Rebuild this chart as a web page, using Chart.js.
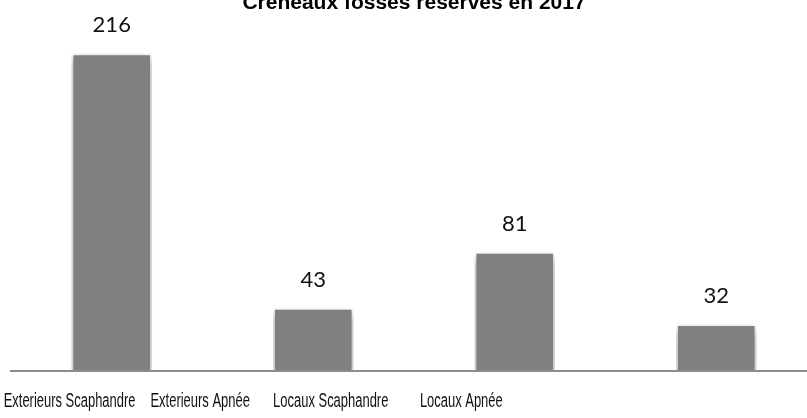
<!DOCTYPE html>
<html>
<head>
<meta charset="utf-8">
<script src="https://cdn.jsdelivr.net/npm/chart.js@4/dist/chart.umd.min.js"></script>
<style>
  html, body { margin: 0; padding: 0; background: #fff; overflow: hidden; }
  #myChart { position: absolute; left: 0; top: -9px; }
</style>
</head>
<body>
<canvas id="myChart" width="822" height="428"></canvas>
<script>
const titleText = "Créneaux fosses réservés en 2017";
const categories = ["Exterieurs Scaphandre", "Exterieurs Apnée", "Locaux Scaphandre", "Locaux Apnée"];
const slots = [216, 43, 81, 32];

// in the original the category labels are squeezed sideways (about 0.65x)
const labelSqueeze = 0.648;
const labelSqueezeOrigin = -8;

const canvasChart = document.getElementById("myChart").getContext("2d");

const barLook = {
  id: "barLook",
  afterUpdate(chart) {
    const xScale = chart.scales.x;
    if (xScale._squeezed) return;
    const drawLabels = xScale.drawLabels;
    xScale.drawLabels = function (area) {
      const ctx = this.ctx;
      ctx.save();
      ctx.translate(labelSqueezeOrigin, 0);
      ctx.scale(labelSqueeze, 1);
      ctx.translate(-labelSqueezeOrigin, 0);
      drawLabels.call(this, area);
      ctx.restore();
    };
    xScale._squeezed = true;
  },
  beforeDatasetsDraw(chart) {
    const ctx = chart.ctx;
    ctx.save();
    ctx.shadowColor = "rgba(0,0,0,0.45)";
    ctx.shadowBlur = 9;
    ctx.shadowOffsetY = 4;
  },
  afterDatasetsDraw(chart) {
    const ctx = chart.ctx;
    ctx.restore();
    ctx.save();
    ctx.font = "22px Lato";
    ctx.fillStyle = "#111";
    ctx.textAlign = "center";
    ctx.textBaseline = "middle";
    chart.getDatasetMeta(0).data.forEach((bar, i) => {
      ctx.fillText(String(slots[i]), bar.x, bar.y - 28);
    });
    ctx.restore();
  },
};

const myChart = new Chart(canvasChart, {
  type: "bar",
  data: {
    labels: categories,
    datasets: [
      {
        data: slots,
        backgroundColor: "#808080",
        borderColor: "rgba(255,255,255,0.85)",
        borderWidth: 2,
        borderSkipped: "bottom",
        barPercentage: 0.4,
        categoryPercentage: 1,
      },
    ],
  },
  options: {
    responsive: false,
    animation: false,
    events: [],
    layout: { padding: { top: 0, left: 11, right: 5, bottom: -12 } },
    plugins: {
      legend: { display: false },
      tooltip: { enabled: false },
      title: {
        display: true,
        text: titleText,
        color: "#000",
        font: { family: "Liberation Sans", size: 21, weight: "bold" },
        padding: { top: 0, bottom: 37 },
      },
    },
    scales: {
      x: {
        afterFit: (scale) => {
          scale.paddingLeft = 0;
          scale.paddingRight = 0;
        },
        grid: { display: false, drawTicks: false },
        border: { display: true, color: "#8c8c8c", width: 2, z: 1 },
        ticks: {
          padding: 18,
          color: "#111",
          minRotation: 0,
          maxRotation: 0,
          autoSkip: false,
          font: { family: "Liberation Sans", size: 20 },
        },
      },
      y: { display: false, min: 0, max: 216 },
    },
  },
  plugins: [barLook],
});
</script>
</body>
</html>
